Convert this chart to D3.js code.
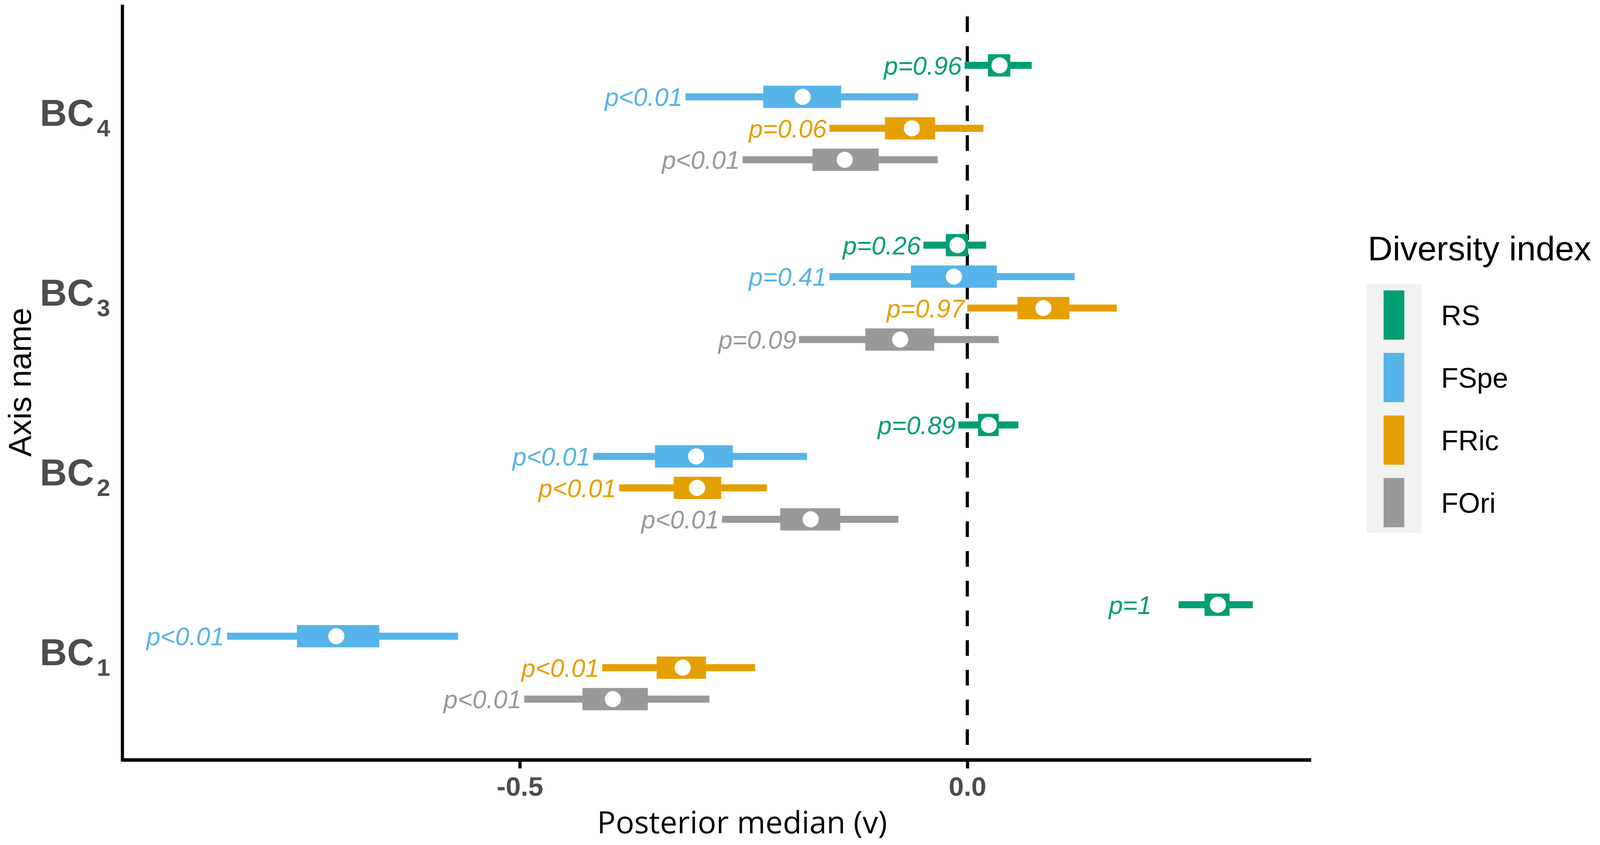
<!DOCTYPE html>
<html>
<head>
<meta charset="utf-8">
<script src="https://cdn.jsdelivr.net/npm/d3@7"></script>
<style>
  html, body { margin: 0; padding: 0; background: #fff; overflow: hidden; }
  svg { display: block; }
  text { font-family: "Liberation Sans", Arial, sans-serif; }
</style>
</head>
<body>
<div id="chart"></div>
<script>
// categories top to bottom, series in dodge order
var categories = ["BC4", "BC3", "BC2", "BC1"];
var series = ["RS", "FSpe", "FRic", "FOri"];
var seriesColors = ["#009E73", "#56B4E9", "#E69F00", "#999999"];

// rows = categories, columns = series
var lower95 = [
  [-0.003, -0.315, -0.154, -0.251],
  [-0.049, -0.154,  0.000, -0.188],
  [-0.010, -0.418, -0.389, -0.274],
  [ 0.236, -0.827, -0.408, -0.495]
];
var lower50 = [
  [ 0.023, -0.228, -0.092, -0.173],
  [-0.024, -0.063,  0.056, -0.114],
  [ 0.012, -0.349, -0.328, -0.209],
  [ 0.265, -0.749, -0.347, -0.430]
];
var medians = [
  [ 0.036, -0.184, -0.062, -0.137],
  [-0.011, -0.015,  0.085, -0.075],
  [ 0.024, -0.303, -0.302, -0.175],
  [ 0.280, -0.705, -0.318, -0.396]
];
var upper50 = [
  [ 0.048, -0.141, -0.036, -0.099],
  [ 0.001,  0.033,  0.114, -0.037],
  [ 0.035, -0.262, -0.275, -0.142],
  [ 0.293, -0.657, -0.292, -0.357]
];
var upper95 = [
  [ 0.072, -0.055,  0.018, -0.033],
  [ 0.021,  0.120,  0.167,  0.035],
  [ 0.057, -0.179, -0.224, -0.077],
  [ 0.319, -0.569, -0.237, -0.288]
];
var pLabels = [
  ["p=0.96", "p<0.01", "p=0.06", "p<0.01"],
  ["p=0.26", "p=0.41", "p=0.97", "p=0.09"],
  ["p=0.89", "p<0.01", "p<0.01", "p<0.01"],
  ["p=1",    "p<0.01", "p<0.01", "p<0.01"]
];
// where each label ends (value units)
var labelAnchor = [
  [-0.003, -0.315, -0.154, -0.251],
  [-0.049, -0.154,  0.000, -0.188],
  [-0.010, -0.418, -0.389, -0.274],
  [ 0.209, -0.827, -0.408, -0.495]
];
var xTicks = [-0.5, 0.0];

// layout is designed on a 4562x2162 sheet and stretched to the window
var W = 4562, H = 2162;
var vw = window.innerWidth || W, vh = window.innerHeight || H;
var sx = vw / W, sy = vh / H, k = Math.min(sx, sy);
function px(v) { return v * sx; }
function py(v) { return v * sy; }
function fs(v) { return (v * k) + "px"; }

var panel = {left: px(349), right: px(3738), top: py(12), bottom: py(1944)};

var svg = d3.select("#chart").append("svg")
  .attr("width", vw)
  .attr("height", vh);

var x = d3.scaleLinear().domain([-0.944, 0.384]).range([panel.left, panel.right]);

// discrete axis with 0.6 step padding on each side, like ggplot
var step = (panel.bottom - panel.top) / (categories.length - 1 + 1.2);
var y = d3.scalePoint().domain(categories)
  .range([panel.top + 0.6 * step, panel.bottom - 0.6 * step]);
var dodge = d3.scaleBand().domain(series).range([-0.35 * step, 0.35 * step]);
var color = d3.scaleOrdinal().domain(series).range(seriesColors);

var rows = [];
categories.forEach(function(c, i) {
  series.forEach(function(s, j) {
    rows.push({
      cat: c, ser: s,
      lo: lower95[i][j], lo50: lower50[i][j], med: medians[i][j],
      hi50: upper50[i][j], hi: upper95[i][j],
      label: pLabels[i][j], lx: labelAnchor[i][j]
    });
  });
});

function yPos(d) { return y(d.cat) + dodge(d.ser) + dodge.bandwidth() / 2; }

// zero reference line
svg.append("line")
  .attr("x1", x(0)).attr("x2", x(0))
  .attr("y1", py(42)).attr("y2", panel.bottom)
  .attr("stroke", "#000")
  .attr("stroke-width", px(9))
  .attr("stroke-dasharray", py(40) + "," + py(36));

var g = svg.append("g");

g.selectAll("line.interval")
  .data(rows)
  .enter().append("line")
  .attr("class", "interval")
  .attr("x1", function(d) { return x(d.lo); })
  .attr("x2", function(d) { return x(d.hi); })
  .attr("y1", yPos)
  .attr("y2", yPos)
  .attr("stroke", function(d) { return color(d.ser); })
  .attr("stroke-width", py(18));

g.selectAll("rect.box")
  .data(rows)
  .enter().append("rect")
  .attr("class", "box")
  .attr("x", function(d) { return x(d.lo50); })
  .attr("width", function(d) { return x(d.hi50) - x(d.lo50); })
  .attr("y", function(d) { return yPos(d) - py(28.5); })
  .attr("height", py(57))
  .attr("fill", function(d) { return color(d.ser); });

g.selectAll("circle.med")
  .data(rows)
  .enter().append("circle")
  .attr("class", "med")
  .attr("cx", function(d) { return x(d.med); })
  .attr("cy", yPos)
  .attr("r", 23 * k)
  .attr("fill", "#fff");

g.selectAll("text.plab")
  .data(rows)
  .enter().append("text")
  .attr("class", "plab")
  .attr("x", function(d) { return x(d.lx) - px(8); })
  .attr("y", yPos)
  .attr("dy", "0.36em")
  .attr("text-anchor", "end")
  .style("font-style", "italic")
  .style("font-size", fs(72))
  .attr("fill", function(d) { return color(d.ser); })
  .text(function(d) { return d.label; });

// axes
var xAxis = svg.append("g")
  .attr("transform", "translate(0," + panel.bottom + ")")
  .call(d3.axisBottom(x).tickValues(xTicks)
    .tickFormat(function(d) { return d.toFixed(1); })
    .tickSize(py(22)).tickSizeOuter(0));
xAxis.select(".domain").attr("stroke", "#000").attr("stroke-width", py(9));
xAxis.selectAll(".tick line").attr("stroke", "#000").attr("stroke-width", px(9));
xAxis.selectAll(".tick text")
  .attr("y", py(43))
  .attr("dy", "0.71em")
  .attr("fill", "#4d4d4d")
  .style("font-size", fs(77))
  .style("font-weight", "bold")
  .style("font-family", "'Liberation Sans', Arial, sans-serif");

svg.append("line")
  .attr("x1", panel.left).attr("x2", panel.left)
  .attr("y1", panel.top).attr("y2", panel.bottom + py(4.5))
  .attr("stroke", "#000").attr("stroke-width", px(9));

// category labels with subscripts
var catLab = svg.selectAll("text.cat")
  .data(categories)
  .enter().append("text")
  .attr("class", "cat")
  .attr("x", px(314))
  .attr("y", function(d) { return y(d) + py(34); })
  .attr("text-anchor", "end")
  .attr("fill", "#4d4d4d")
  .style("font-weight", "bold")
  .style("font-size", fs(107));
catLab.append("tspan").text("BC");
catLab.append("tspan")
  .attr("dx", 8 * k)
  .attr("dy", py(27))
  .style("font-size", fs(68))
  .text(function(d) { return d.slice(2); });

// axis titles
svg.append("text")
  .attr("transform", "translate(" + px(88) + "," + ((panel.top + panel.bottom) / 2) + ") rotate(-90)")
  .attr("text-anchor", "middle")
  .style("font-size", fs(91))
  .attr("fill", "#000")
  .text("Axis name");

svg.append("text")
  .attr("x", px(2116))
  .attr("y", py(2132))
  .attr("text-anchor", "middle")
  .style("font-family", "'Open Sans', sans-serif")
  .style("font-size", fs(88))
  .attr("fill", "#000")
  .text("Posterior median (v)");

// legend
var legend = svg.append("g").attr("transform", "translate(" + px(3897) + ",0)");
legend.append("text")
  .attr("x", px(3))
  .attr("y", py(666))
  .style("font-size", fs(98))
  .attr("fill", "#000")
  .text("Diversity index");

var keyH = 160;
legend.append("rect")
  .attr("x", 0).attr("y", py(727))
  .attr("width", px(155)).attr("height", py(keyH * series.length - 4))
  .attr("fill", "#f2f2f2");

var keys = legend.selectAll("g.key")
  .data(series)
  .enter().append("g")
  .attr("class", "key")
  .attr("transform", function(d, i) { return "translate(0," + py(727 + i * keyH) + ")"; });

keys.append("rect")
  .attr("x", px(48)).attr("y", py(16))
  .attr("width", px(59)).attr("height", py(126))
  .attr("fill", function(d) { return color(d); });

keys.append("text")
  .attr("x", px(212))
  .attr("y", py(79))
  .attr("dy", "0.36em")
  .style("font-size", fs(80))
  .attr("fill", "#000")
  .text(function(d) { return d; });
</script>
</body>
</html>
